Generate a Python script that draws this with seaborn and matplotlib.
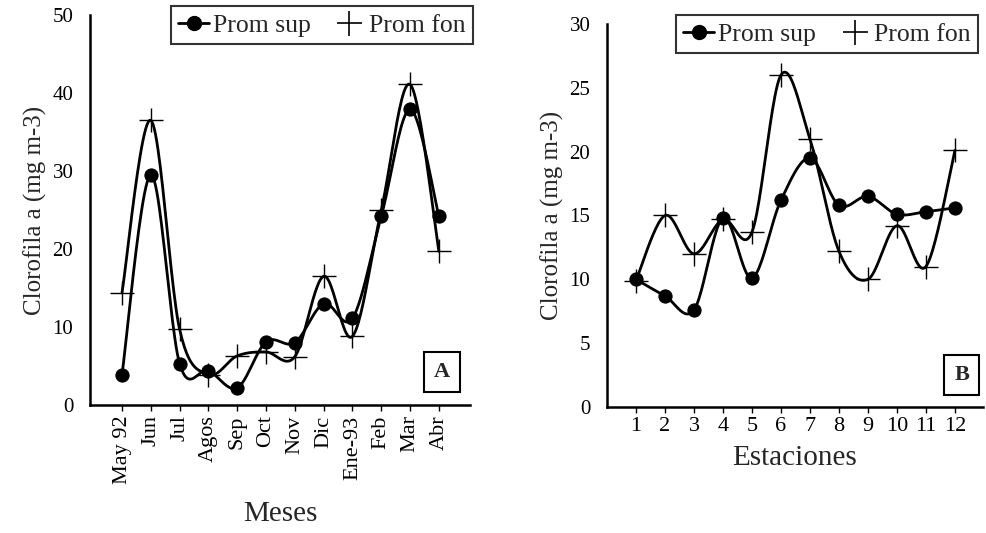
import numpy as np
import pandas as pd
import seaborn as sns
import matplotlib.pyplot as plt
from matplotlib.lines import Line2D

# Panel A data (monthly means)
meses = ['May 92', 'Jun', 'Jul', 'Agos', 'Sep', 'Oct', 'Nov', 'Dic',
         'Ene-93', 'Feb', 'Mar', 'Abr']
a_sup = [3.9, 29.5, 5.3, 4.4, 2.2, 8.1, 8.0, 13.0, 11.1, 24.2, 37.9, 24.2]
a_fon = [14.4, 36.5, 9.7, 3.9, 6.3, 6.8, 6.2, 16.5, 8.8, 25.0, 41.1, 19.7]

# Panel B data (stations)
estaciones = [1, 2, 3, 4, 5, 6, 7, 8, 9, 10, 11, 12]
b_sup = [10.0, 8.7, 7.6, 14.8, 10.1, 16.2, 19.5, 15.8, 16.5, 15.1, 15.3, 15.6]
b_fon = [9.9, 15.0, 12.0, 14.7, 13.7, 26.0, 21.0, 12.2, 10.0, 14.2, 11.0, 20.1]


def smooth(x, y, n=25):
    # Excel-style smoothed line (Bezier through the points)
    pts = np.column_stack([x, y]).astype(float)
    P = np.vstack([pts[0], pts, pts[-1]])
    segs = []
    t = np.linspace(0, 1, n)[:, None]
    for i in range(1, len(P) - 2):
        p0, p1, p2, p3 = P[i - 1], P[i], P[i + 1], P[i + 2]
        c1 = p1 + (p2 - p0) / 6
        c2 = p2 - (p3 - p1) / 6
        segs.append((1 - t) ** 3 * p1 + 3 * (1 - t) ** 2 * t * c1
                    + 3 * (1 - t) * t ** 2 * c2 + t ** 3 * p2)
    s = np.vstack(segs)
    return pd.DataFrame({'x': s[:, 0], 'y': s[:, 1]})


sns.set_style('white')
plt.rcParams['font.family'] = ['Liberation Serif', 'DejaVu Serif']

fig = plt.figure(figsize=(9.86, 5.33), dpi=100)
axA = fig.add_axes([0.0913, 0.2402, 0.3854, 0.7317])
axB = fig.add_axes([0.6156, 0.2364, 0.3814, 0.7186])


def draw(ax, x, sup, fon):
    for vals in (sup, fon):
        sm = smooth(x, vals)
        sns.lineplot(data=sm, x='x', y='y', sort=False, color='black',
                     lw=2.0, ax=ax)
    sns.scatterplot(x=x, y=sup, marker='o', s=90, color='black',
                    edgecolor='black', ax=ax, zorder=5)
    sns.scatterplot(x=x, y=fon, marker='+', s=320, color='black',
                    linewidth=1.0, ax=ax, zorder=5)
    for side in ['top', 'right']:
        ax.spines[side].set_visible(False)
    for side in ['left', 'bottom']:
        ax.spines[side].set_color('black')
        ax.spines[side].set_linewidth(1.8)
    ax.tick_params(axis='x', direction='out', length=4, width=1,
                   bottom=True, labelsize=16, colors='black')
    ax.tick_params(axis='y', length=0, labelsize=15, colors='black', pad=12)
    ax.set_ylabel('Clorofila a (mg m-3)', fontsize=18)


# Panel A
xa = list(range(len(meses)))
draw(axA, xa, a_sup, a_fon)
axA.set_xlim(-1.11, 12.08)
axA.set_ylim(0, 50)
axA.set_yticks(range(0, 51, 10))
axA.set_xticks(xa)
axA.set_xticklabels(meses, rotation=90, fontsize=16)
axA.set_xlabel('Meses', fontsize=21, labelpad=12)

# Panel B
draw(axB, estaciones, b_sup, b_fon)
axB.set_xlim(0, 12.97)
axB.set_ylim(0, 30)
axB.set_yticks(range(0, 31, 5))
axB.set_xticks(estaciones)
axB.set_xlabel('Estaciones', fontsize=21, labelpad=6)

handles = [Line2D([], [], color='black', marker='o', markersize=10, lw=2.0),
           Line2D([], [], color='black', marker='+', markersize=18, lw=1.0,
                  markeredgewidth=1.2, linestyle='none')]
labels = ['Prom sup', 'Prom fon']
for ax, anchor in ((axA, (0.4797, 0.9887)), (axB, (0.992, 0.9719))):
    leg = ax.legend(handles, labels, loc='upper right', ncol=2,
                    bbox_to_anchor=anchor, bbox_transform=fig.transFigure,
                    fontsize=18.5, frameon=True, fancybox=False,
                    handlelength=1.2, handletextpad=0.15, columnspacing=0.9,
                    borderpad=0.3, borderaxespad=0)
    leg.get_frame().set_edgecolor('black')
    leg.get_frame().set_linewidth(1.5)

for lab, pos in (('A', (0.448, 0.303)), ('B', (0.9754, 0.2968))):
    fig.text(pos[0], pos[1], lab, ha='center', va='center', fontsize=16,
             fontweight='bold',
             bbox=dict(boxstyle='square,pad=0.45', fc='white', ec='black',
                       lw=1.5))

fig.savefig('out.png', dpi=100)
